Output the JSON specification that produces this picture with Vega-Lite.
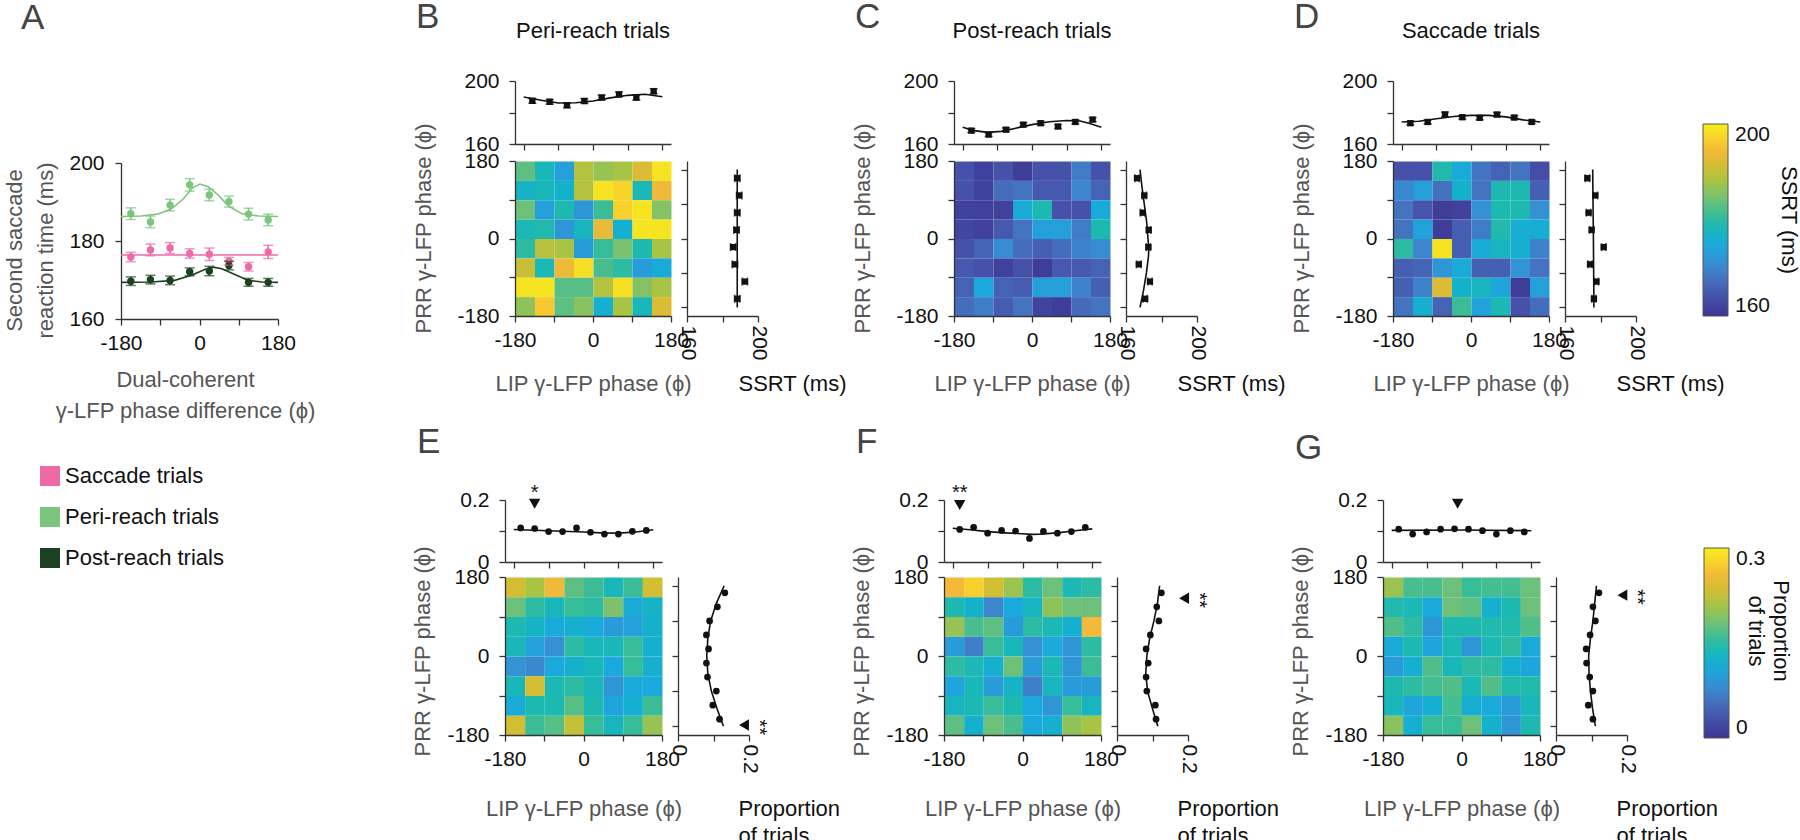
{
"$schema": "https://vega.github.io/schema/vega-lite/v6.json",
"padding": {"left": 2, "top": 0, "right": 0, "bottom": 0},
"bounds": "flush",
"spacing": 419,
"resolve": {"scale": {"color": "independent"}, "legend": {"color": "independent"}},
"config": {
 "font": "Liberation Sans",
 "view": {"stroke": null},
 "axis": {"grid": false, "domainColor": "#333", "domainWidth": 1.3, "tickColor": "#333", "tickWidth": 1.3, "tickSize": 6, "labelFontSize": 21, "labelColor": "#111", "labelPadding": 7, "labelFlush": false, "labelOverlap": false, "titleFontSize": 22, "titleFontWeight": "normal", "titleColor": "#555", "titlePadding": 16},
 "axisY": {"labelPadding": 10},
 "legend": {"labelFontSize": 21, "labelColor": "#111", "titleFontSize": 22, "titleFontWeight": "normal", "titleColor": "#111", "padding": 0},
 "title": {"fontSize": 22, "fontWeight": "normal", "color": "#111"}
},
"datasets": {
 "adata": [
  {"s":"Peri-reach trials","x":-157.5,"v":187.0,"e":1.5},{"s":"Peri-reach trials","x":-112.5,"v":184.9,"e":1.5},{"s":"Peri-reach trials","x":-67.5,"v":189.2,"e":1.5},{"s":"Peri-reach trials","x":-22.5,"v":194.4,"e":1.6},{"s":"Peri-reach trials","x":22.5,"v":191.8,"e":1.5},{"s":"Peri-reach trials","x":67.5,"v":190.1,"e":1.4},{"s":"Peri-reach trials","x":112.5,"v":186.9,"e":1.5},{"s":"Peri-reach trials","x":157.5,"v":185.4,"e":1.5},
  {"s":"Saccade trials","x":-157.5,"v":175.9,"e":1.2},{"s":"Saccade trials","x":-112.5,"v":177.7,"e":1.5},{"s":"Saccade trials","x":-67.5,"v":178.2,"e":1.4},{"s":"Saccade trials","x":-22.5,"v":176.8,"e":1.2},{"s":"Saccade trials","x":22.5,"v":176.6,"e":1.6},{"s":"Saccade trials","x":67.5,"v":174.8,"e":1.0},{"s":"Saccade trials","x":112.5,"v":173.4,"e":1.1},{"s":"Saccade trials","x":157.5,"v":177.2,"e":1.7},
  {"s":"Post-reach trials","x":-157.5,"v":169.7,"e":1.1},{"s":"Post-reach trials","x":-112.5,"v":170.1,"e":1.1},{"s":"Post-reach trials","x":-67.5,"v":169.9,"e":1.1},{"s":"Post-reach trials","x":-22.5,"v":172.1,"e":1.0},{"s":"Post-reach trials","x":22.5,"v":172.3,"e":1.2},{"s":"Post-reach trials","x":67.5,"v":173.7,"e":1.1},{"s":"Post-reach trials","x":112.5,"v":169.4,"e":1.0},{"s":"Post-reach trials","x":157.5,"v":169.4,"e":1.0}
 ],
 "afit": [
  {"s":"Peri-reach trials","x":-180,"v":186.3},{"s":"Peri-reach trials","x":-134,"v":186.4},{"s":"Peri-reach trials","x":-95,"v":186.9},{"s":"Peri-reach trials","x":-65,"v":188.2},{"s":"Peri-reach trials","x":-38,"v":190.7},{"s":"Peri-reach trials","x":-15,"v":193.7},{"s":"Peri-reach trials","x":1,"v":194.6},{"s":"Peri-reach trials","x":20,"v":193.9},{"s":"Peri-reach trials","x":43,"v":191.8},{"s":"Peri-reach trials","x":66,"v":189.0},{"s":"Peri-reach trials","x":97,"v":187.0},{"s":"Peri-reach trials","x":135,"v":186.4},{"s":"Peri-reach trials","x":180,"v":186.3},
  {"s":"Saccade trials","x":-180,"v":176.4},{"s":"Saccade trials","x":180,"v":176.4},
  {"s":"Post-reach trials","x":-180,"v":169.4},{"s":"Post-reach trials","x":-111,"v":169.5},{"s":"Post-reach trials","x":-57,"v":169.9},{"s":"Post-reach trials","x":-18,"v":171.2},{"s":"Post-reach trials","x":12,"v":172.7},{"s":"Post-reach trials","x":31,"v":173.3},{"s":"Post-reach trials","x":51,"v":172.9},{"s":"Post-reach trials","x":81,"v":171.4},{"s":"Post-reach trials","x":112,"v":169.9},{"s":"Post-reach trials","x":143,"v":169.5},{"s":"Post-reach trials","x":180,"v":169.4}
 ],
 "hm1": [
  {"p":"B","x":-180,"y":135,"v":183.2},{"p":"B","x":-135,"y":135,"v":178},{"p":"B","x":-90,"y":135,"v":173.2},{"p":"B","x":-45,"y":135,"v":188.8},{"p":"B","x":0,"y":135,"v":186.8},{"p":"B","x":45,"y":135,"v":188},{"p":"B","x":90,"y":135,"v":192},{"p":"B","x":135,"y":135,"v":198.8},
  {"p":"B","x":-180,"y":90,"v":177.2},{"p":"B","x":-135,"y":90,"v":178},{"p":"B","x":-90,"y":90,"v":176.8},{"p":"B","x":-45,"y":90,"v":188.8},{"p":"B","x":0,"y":90,"v":198.8},{"p":"B","x":45,"y":90,"v":197.2},{"p":"B","x":90,"y":90,"v":178.4},{"p":"B","x":135,"y":90,"v":194},
  {"p":"B","x":-180,"y":45,"v":184},{"p":"B","x":-135,"y":45,"v":173.2},{"p":"B","x":-90,"y":45,"v":178.8},{"p":"B","x":-45,"y":45,"v":172},{"p":"B","x":0,"y":45,"v":181.2},{"p":"B","x":45,"y":45,"v":196.8},{"p":"B","x":90,"y":45,"v":198.8},{"p":"B","x":135,"y":45,"v":185.6},
  {"p":"B","x":-180,"y":0,"v":178.4},{"p":"B","x":-135,"y":0,"v":179.2},{"p":"B","x":-90,"y":0,"v":172},{"p":"B","x":-45,"y":0,"v":177.6},{"p":"B","x":0,"y":0,"v":193.2},{"p":"B","x":45,"y":0,"v":176},{"p":"B","x":90,"y":0,"v":198.8},{"p":"B","x":135,"y":0,"v":198.8},
  {"p":"B","x":-180,"y":-45,"v":180},{"p":"B","x":-135,"y":-45,"v":189.2},{"p":"B","x":-90,"y":-45,"v":188},{"p":"B","x":-45,"y":-45,"v":172.8},{"p":"B","x":0,"y":-45,"v":180.8},{"p":"B","x":45,"y":-45,"v":184.8},{"p":"B","x":90,"y":-45,"v":178.8},{"p":"B","x":135,"y":-45,"v":188},
  {"p":"B","x":-180,"y":-90,"v":190.4},{"p":"B","x":-135,"y":-90,"v":178.4},{"p":"B","x":-90,"y":-90,"v":193.6},{"p":"B","x":-45,"y":-90,"v":198.4},{"p":"B","x":0,"y":-90,"v":182},{"p":"B","x":45,"y":-90,"v":180},{"p":"B","x":90,"y":-90,"v":172.8},{"p":"B","x":135,"y":-90,"v":175.2},
  {"p":"B","x":-180,"y":-135,"v":198.8},{"p":"B","x":-135,"y":-135,"v":198.8},{"p":"B","x":-90,"y":-135,"v":182.8},{"p":"B","x":-45,"y":-135,"v":182.8},{"p":"B","x":0,"y":-135,"v":188.8},{"p":"B","x":45,"y":-135,"v":198.4},{"p":"B","x":90,"y":-135,"v":185.6},{"p":"B","x":135,"y":-135,"v":188},
  {"p":"B","x":-180,"y":-180,"v":186.4},{"p":"B","x":-135,"y":-180,"v":196},{"p":"B","x":-90,"y":-180,"v":183.2},{"p":"B","x":-45,"y":-180,"v":186},{"p":"B","x":0,"y":-180,"v":176},{"p":"B","x":45,"y":-180,"v":188},{"p":"B","x":90,"y":-180,"v":178},{"p":"B","x":135,"y":-180,"v":192},
  {"p":"C","x":-180,"y":135,"v":164},{"p":"C","x":-135,"y":135,"v":161.6},{"p":"C","x":-90,"y":135,"v":164},{"p":"C","x":-45,"y":135,"v":161.2},{"p":"C","x":0,"y":135,"v":164},{"p":"C","x":45,"y":135,"v":164},{"p":"C","x":90,"y":135,"v":168.8},{"p":"C","x":135,"y":135,"v":164},
  {"p":"C","x":-180,"y":90,"v":164},{"p":"C","x":-135,"y":90,"v":161.6},{"p":"C","x":-90,"y":90,"v":167.2},{"p":"C","x":-45,"y":90,"v":168},{"p":"C","x":0,"y":90,"v":164.8},{"p":"C","x":45,"y":90,"v":164.8},{"p":"C","x":90,"y":90,"v":170},{"p":"C","x":135,"y":90,"v":166},
  {"p":"C","x":-180,"y":45,"v":161.6},{"p":"C","x":-135,"y":45,"v":161.6},{"p":"C","x":-90,"y":45,"v":161.6},{"p":"C","x":-45,"y":45,"v":175.2},{"p":"C","x":0,"y":45,"v":178.8},{"p":"C","x":45,"y":45,"v":164},{"p":"C","x":90,"y":45,"v":164},{"p":"C","x":135,"y":45,"v":174.8},
  {"p":"C","x":-180,"y":0,"v":162.4},{"p":"C","x":-135,"y":0,"v":161.6},{"p":"C","x":-90,"y":0,"v":164.8},{"p":"C","x":-45,"y":0,"v":168},{"p":"C","x":0,"y":0,"v":173.2},{"p":"C","x":45,"y":0,"v":173.2},{"p":"C","x":90,"y":0,"v":168.8},{"p":"C","x":135,"y":0,"v":178.8},
  {"p":"C","x":-180,"y":-45,"v":164},{"p":"C","x":-135,"y":-45,"v":166},{"p":"C","x":-90,"y":-45,"v":170.8},{"p":"C","x":-45,"y":-45,"v":167.2},{"p":"C","x":0,"y":-45,"v":165.6},{"p":"C","x":45,"y":-45,"v":167.2},{"p":"C","x":90,"y":-45,"v":169.6},{"p":"C","x":135,"y":-45,"v":170.8},
  {"p":"C","x":-180,"y":-90,"v":164.8},{"p":"C","x":-135,"y":-90,"v":164},{"p":"C","x":-90,"y":-90,"v":161.6},{"p":"C","x":-45,"y":-90,"v":164},{"p":"C","x":0,"y":-90,"v":161.2},{"p":"C","x":45,"y":-90,"v":164.8},{"p":"C","x":90,"y":-90,"v":164.8},{"p":"C","x":135,"y":-90,"v":166},
  {"p":"C","x":-180,"y":-135,"v":166},{"p":"C","x":-135,"y":-135,"v":174.4},{"p":"C","x":-90,"y":-135,"v":166},{"p":"C","x":-45,"y":-135,"v":165.2},{"p":"C","x":0,"y":-135,"v":173.2},{"p":"C","x":45,"y":-135,"v":173.2},{"p":"C","x":90,"y":-135,"v":169.6},{"p":"C","x":135,"y":-135,"v":165.6},
  {"p":"C","x":-180,"y":-180,"v":167.2},{"p":"C","x":-135,"y":-180,"v":169.2},{"p":"C","x":-90,"y":-180,"v":165.2},{"p":"C","x":-45,"y":-180,"v":168},{"p":"C","x":0,"y":-180,"v":162},{"p":"C","x":45,"y":-180,"v":161.2},{"p":"C","x":90,"y":-180,"v":166.8},{"p":"C","x":135,"y":-180,"v":168},
  {"p":"D","x":-180,"y":135,"v":164},{"p":"D","x":-135,"y":135,"v":164},{"p":"D","x":-90,"y":135,"v":179.2},{"p":"D","x":-45,"y":135,"v":174.8},{"p":"D","x":0,"y":135,"v":168},{"p":"D","x":45,"y":135,"v":166},{"p":"D","x":90,"y":135,"v":168},{"p":"D","x":135,"y":135,"v":163.2},
  {"p":"D","x":-180,"y":90,"v":170.4},{"p":"D","x":-135,"y":90,"v":173.2},{"p":"D","x":-90,"y":90,"v":167.6},{"p":"D","x":-45,"y":90,"v":176.8},{"p":"D","x":0,"y":90,"v":168},{"p":"D","x":45,"y":90,"v":178.8},{"p":"D","x":90,"y":90,"v":178.8},{"p":"D","x":135,"y":90,"v":165.6},
  {"p":"D","x":-180,"y":45,"v":168},{"p":"D","x":-135,"y":45,"v":164.4},{"p":"D","x":-90,"y":45,"v":161.2},{"p":"D","x":-45,"y":45,"v":161.6},{"p":"D","x":0,"y":45,"v":171.2},{"p":"D","x":45,"y":45,"v":178.8},{"p":"D","x":90,"y":45,"v":178.8},{"p":"D","x":135,"y":45,"v":171.2},
  {"p":"D","x":-180,"y":0,"v":168},{"p":"D","x":-135,"y":0,"v":173.6},{"p":"D","x":-90,"y":0,"v":161.2},{"p":"D","x":-45,"y":0,"v":165.6},{"p":"D","x":0,"y":0,"v":168.8},{"p":"D","x":45,"y":0,"v":179.2},{"p":"D","x":90,"y":0,"v":175.6},{"p":"D","x":135,"y":0,"v":175.6},
  {"p":"D","x":-180,"y":-45,"v":180},{"p":"D","x":-135,"y":-45,"v":170},{"p":"D","x":-90,"y":-45,"v":198.8},{"p":"D","x":-45,"y":-45,"v":165.6},{"p":"D","x":0,"y":-45,"v":175.2},{"p":"D","x":45,"y":-45,"v":177.6},{"p":"D","x":90,"y":-45,"v":176},{"p":"D","x":135,"y":-45,"v":169.6},
  {"p":"D","x":-180,"y":-90,"v":165.6},{"p":"D","x":-135,"y":-90,"v":166.4},{"p":"D","x":-90,"y":-90,"v":172},{"p":"D","x":-45,"y":-90,"v":175.2},{"p":"D","x":0,"y":-90,"v":165.6},{"p":"D","x":45,"y":-90,"v":165.6},{"p":"D","x":90,"y":-90,"v":171.6},{"p":"D","x":135,"y":-90,"v":168},
  {"p":"D","x":-180,"y":-135,"v":165.6},{"p":"D","x":-135,"y":-135,"v":169.6},{"p":"D","x":-90,"y":-135,"v":192},{"p":"D","x":-45,"y":-135,"v":176.8},{"p":"D","x":0,"y":-135,"v":177.6},{"p":"D","x":45,"y":-135,"v":174},{"p":"D","x":90,"y":-135,"v":161.2},{"p":"D","x":135,"y":-135,"v":173.2},
  {"p":"D","x":-180,"y":-180,"v":168},{"p":"D","x":-135,"y":-180,"v":176},{"p":"D","x":-90,"y":-180,"v":166},{"p":"D","x":-45,"y":-180,"v":181.2},{"p":"D","x":0,"y":-180,"v":173.6},{"p":"D","x":45,"y":-180,"v":178.4},{"p":"D","x":90,"y":-180,"v":164},{"p":"D","x":135,"y":-180,"v":167.2}
 ],
 "hm2": [
  {"p":"E","x":-180,"y":135,"v":0.234},{"p":"E","x":-135,"y":135,"v":0.21},{"p":"E","x":-90,"y":135,"v":0.255},{"p":"E","x":-45,"y":135,"v":0.174},{"p":"E","x":0,"y":135,"v":0.159},{"p":"E","x":45,"y":135,"v":0.135},{"p":"E","x":90,"y":135,"v":0.159},{"p":"E","x":135,"y":135,"v":0.234},
  {"p":"E","x":-180,"y":90,"v":0.18},{"p":"E","x":-135,"y":90,"v":0.15},{"p":"E","x":-90,"y":90,"v":0.135},{"p":"E","x":-45,"y":90,"v":0.156},{"p":"E","x":0,"y":90,"v":0.15},{"p":"E","x":45,"y":90,"v":0.189},{"p":"E","x":90,"y":90,"v":0.114},{"p":"E","x":135,"y":90,"v":0.129},
  {"p":"E","x":-180,"y":45,"v":0.141},{"p":"E","x":-135,"y":45,"v":0.129},{"p":"E","x":-90,"y":45,"v":0.111},{"p":"E","x":-45,"y":45,"v":0.12},{"p":"E","x":0,"y":45,"v":0.111},{"p":"E","x":45,"y":45,"v":0.096},{"p":"E","x":90,"y":45,"v":0.099},{"p":"E","x":135,"y":45,"v":0.126},
  {"p":"E","x":-180,"y":0,"v":0.135},{"p":"E","x":-135,"y":0,"v":0.099},{"p":"E","x":-90,"y":0,"v":0.084},{"p":"E","x":-45,"y":0,"v":0.15},{"p":"E","x":0,"y":0,"v":0.135},{"p":"E","x":45,"y":0,"v":0.135},{"p":"E","x":90,"y":0,"v":0.156},{"p":"E","x":135,"y":0,"v":0.12},
  {"p":"E","x":-180,"y":-45,"v":0.087},{"p":"E","x":-135,"y":-45,"v":0.078},{"p":"E","x":-90,"y":-45,"v":0.108},{"p":"E","x":-45,"y":-45,"v":0.126},{"p":"E","x":0,"y":-45,"v":0.135},{"p":"E","x":45,"y":-45,"v":0.108},{"p":"E","x":90,"y":-45,"v":0.156},{"p":"E","x":135,"y":-45,"v":0.12},
  {"p":"E","x":-180,"y":-90,"v":0.135},{"p":"E","x":-135,"y":-90,"v":0.234},{"p":"E","x":-90,"y":-90,"v":0.138},{"p":"E","x":-45,"y":-90,"v":0.15},{"p":"E","x":0,"y":-90,"v":0.135},{"p":"E","x":45,"y":-90,"v":0.09},{"p":"E","x":90,"y":-90,"v":0.111},{"p":"E","x":135,"y":-90,"v":0.108},
  {"p":"E","x":-180,"y":-135,"v":0.114},{"p":"E","x":-135,"y":-135,"v":0.141},{"p":"E","x":-90,"y":-135,"v":0.141},{"p":"E","x":-45,"y":-135,"v":0.171},{"p":"E","x":0,"y":-135,"v":0.141},{"p":"E","x":45,"y":-135,"v":0.105},{"p":"E","x":90,"y":-135,"v":0.12},{"p":"E","x":135,"y":-135,"v":0.159},
  {"p":"E","x":-180,"y":-180,"v":0.234},{"p":"E","x":-135,"y":-180,"v":0.159},{"p":"E","x":-90,"y":-180,"v":0.171},{"p":"E","x":-45,"y":-180,"v":0.225},{"p":"E","x":0,"y":-180,"v":0.156},{"p":"E","x":45,"y":-180,"v":0.132},{"p":"E","x":90,"y":-180,"v":0.156},{"p":"E","x":135,"y":-180,"v":0.201},
  {"p":"F","x":-180,"y":135,"v":0.258},{"p":"F","x":-135,"y":135,"v":0.276},{"p":"F","x":-90,"y":135,"v":0.234},{"p":"F","x":-45,"y":135,"v":0.204},{"p":"F","x":0,"y":135,"v":0.15},{"p":"F","x":45,"y":135,"v":0.18},{"p":"F","x":90,"y":135,"v":0.138},{"p":"F","x":135,"y":135,"v":0.15},
  {"p":"F","x":-180,"y":90,"v":0.141},{"p":"F","x":-135,"y":90,"v":0.126},{"p":"F","x":-90,"y":90,"v":0.075},{"p":"F","x":-45,"y":90,"v":0.108},{"p":"F","x":0,"y":90,"v":0.132},{"p":"F","x":45,"y":90,"v":0.198},{"p":"F","x":90,"y":90,"v":0.18},{"p":"F","x":135,"y":90,"v":0.18},
  {"p":"F","x":-180,"y":45,"v":0.201},{"p":"F","x":-135,"y":45,"v":0.165},{"p":"F","x":-90,"y":45,"v":0.174},{"p":"F","x":-45,"y":45,"v":0.096},{"p":"F","x":0,"y":45,"v":0.15},{"p":"F","x":45,"y":45,"v":0.138},{"p":"F","x":90,"y":45,"v":0.12},{"p":"F","x":135,"y":45,"v":0.258},
  {"p":"F","x":-180,"y":0,"v":0.096},{"p":"F","x":-135,"y":0,"v":0.069},{"p":"F","x":-90,"y":0,"v":0.156},{"p":"F","x":-45,"y":0,"v":0.135},{"p":"F","x":0,"y":0,"v":0.084},{"p":"F","x":45,"y":0,"v":0.111},{"p":"F","x":90,"y":0,"v":0.09},{"p":"F","x":135,"y":0,"v":0.15},
  {"p":"F","x":-180,"y":-45,"v":0.15},{"p":"F","x":-135,"y":-45,"v":0.138},{"p":"F","x":-90,"y":-45,"v":0.12},{"p":"F","x":-45,"y":-45,"v":0.18},{"p":"F","x":0,"y":-45,"v":0.096},{"p":"F","x":45,"y":-45,"v":0.138},{"p":"F","x":90,"y":-45,"v":0.09},{"p":"F","x":135,"y":-45,"v":0.159},
  {"p":"F","x":-180,"y":-90,"v":0.105},{"p":"F","x":-135,"y":-90,"v":0.135},{"p":"F","x":-90,"y":-90,"v":0.096},{"p":"F","x":-45,"y":-90,"v":0.129},{"p":"F","x":0,"y":-90,"v":0.069},{"p":"F","x":45,"y":-90,"v":0.132},{"p":"F","x":90,"y":-90,"v":0.096},{"p":"F","x":135,"y":-90,"v":0.096},
  {"p":"F","x":-180,"y":-135,"v":0.132},{"p":"F","x":-135,"y":-135,"v":0.138},{"p":"F","x":-90,"y":-135,"v":0.156},{"p":"F","x":-45,"y":-135,"v":0.141},{"p":"F","x":0,"y":-135,"v":0.108},{"p":"F","x":45,"y":-135,"v":0.09},{"p":"F","x":90,"y":-135,"v":0.156},{"p":"F","x":135,"y":-135,"v":0.132},
  {"p":"F","x":-180,"y":-180,"v":0.174},{"p":"F","x":-135,"y":-180,"v":0.123},{"p":"F","x":-90,"y":-180,"v":0.18},{"p":"F","x":-45,"y":-180,"v":0.165},{"p":"F","x":0,"y":-180,"v":0.108},{"p":"F","x":45,"y":-180,"v":0.12},{"p":"F","x":90,"y":-180,"v":0.198},{"p":"F","x":135,"y":-180,"v":0.21},
  {"p":"G","x":-180,"y":135,"v":0.204},{"p":"G","x":-135,"y":135,"v":0.165},{"p":"G","x":-90,"y":135,"v":0.165},{"p":"G","x":-45,"y":135,"v":0.18},{"p":"G","x":0,"y":135,"v":0.156},{"p":"G","x":45,"y":135,"v":0.162},{"p":"G","x":90,"y":135,"v":0.162},{"p":"G","x":135,"y":135,"v":0.18},
  {"p":"G","x":-180,"y":90,"v":0.144},{"p":"G","x":-135,"y":90,"v":0.138},{"p":"G","x":-90,"y":90,"v":0.111},{"p":"G","x":-45,"y":90,"v":0.18},{"p":"G","x":0,"y":90,"v":0.174},{"p":"G","x":45,"y":90,"v":0.12},{"p":"G","x":90,"y":90,"v":0.141},{"p":"G","x":135,"y":90,"v":0.18},
  {"p":"G","x":-180,"y":45,"v":0.168},{"p":"G","x":-135,"y":45,"v":0.15},{"p":"G","x":-90,"y":45,"v":0.09},{"p":"G","x":-45,"y":45,"v":0.141},{"p":"G","x":0,"y":45,"v":0.141},{"p":"G","x":45,"y":45,"v":0.144},{"p":"G","x":90,"y":45,"v":0.144},{"p":"G","x":135,"y":45,"v":0.168},
  {"p":"G","x":-180,"y":0,"v":0.111},{"p":"G","x":-135,"y":0,"v":0.141},{"p":"G","x":-90,"y":0,"v":0.105},{"p":"G","x":-45,"y":0,"v":0.138},{"p":"G","x":0,"y":0,"v":0.09},{"p":"G","x":45,"y":0,"v":0.138},{"p":"G","x":90,"y":0,"v":0.15},{"p":"G","x":135,"y":0,"v":0.111},
  {"p":"G","x":-180,"y":-45,"v":0.096},{"p":"G","x":-135,"y":-45,"v":0.12},{"p":"G","x":-90,"y":-45,"v":0.168},{"p":"G","x":-45,"y":-45,"v":0.135},{"p":"G","x":0,"y":-45,"v":0.15},{"p":"G","x":45,"y":-45,"v":0.15},{"p":"G","x":90,"y":-45,"v":0.12},{"p":"G","x":135,"y":-45,"v":0.105},
  {"p":"G","x":-180,"y":-90,"v":0.141},{"p":"G","x":-135,"y":-90,"v":0.15},{"p":"G","x":-90,"y":-90,"v":0.162},{"p":"G","x":-45,"y":-90,"v":0.168},{"p":"G","x":0,"y":-90,"v":0.138},{"p":"G","x":45,"y":-90,"v":0.168},{"p":"G","x":90,"y":-90,"v":0.144},{"p":"G","x":135,"y":-90,"v":0.144},
  {"p":"G","x":-180,"y":-135,"v":0.135},{"p":"G","x":-135,"y":-135,"v":0.105},{"p":"G","x":-90,"y":-135,"v":0.12},{"p":"G","x":-45,"y":-135,"v":0.162},{"p":"G","x":0,"y":-135,"v":0.12},{"p":"G","x":45,"y":-135,"v":0.111},{"p":"G","x":90,"y":-135,"v":0.096},{"p":"G","x":135,"y":-135,"v":0.135},
  {"p":"G","x":-180,"y":-180,"v":0.195},{"p":"G","x":-135,"y":-180,"v":0.12},{"p":"G","x":-90,"y":-180,"v":0.156},{"p":"G","x":-45,"y":-180,"v":0.156},{"p":"G","x":0,"y":-180,"v":0.18},{"p":"G","x":45,"y":-180,"v":0.126},{"p":"G","x":90,"y":-180,"v":0.09},{"p":"G","x":135,"y":-180,"v":0.141}
 ],
 "t1": [
  {"p":"B","x":-157.5,"v":187.4,"e":1.5},{"p":"B","x":-112.5,"v":186.8,"e":1.5},{"p":"B","x":-67.5,"v":184.6,"e":1.5},{"p":"B","x":-22.5,"v":187.3,"e":1.5},{"p":"B","x":22.5,"v":189.5,"e":1.5},{"p":"B","x":67.5,"v":191.5,"e":1.5},{"p":"B","x":112.5,"v":189.5,"e":1.6},{"p":"B","x":157.5,"v":193.5,"e":1.6},
  {"p":"C","x":-157.5,"v":168.5,"e":1.2},{"p":"C","x":-112.5,"v":166.0,"e":1.2},{"p":"C","x":-67.5,"v":169.1,"e":1.2},{"p":"C","x":-22.5,"v":172.3,"e":1.2},{"p":"C","x":22.5,"v":173.2,"e":1.2},{"p":"C","x":67.5,"v":171.1,"e":1.2},{"p":"C","x":112.5,"v":174.0,"e":1.2},{"p":"C","x":157.5,"v":175.5,"e":1.3},
  {"p":"D","x":-157.5,"v":173.2,"e":1.1},{"p":"D","x":-112.5,"v":174.0,"e":1.2},{"p":"D","x":-67.5,"v":178.7,"e":1.6},{"p":"D","x":-22.5,"v":177.0,"e":1.2},{"p":"D","x":22.5,"v":176.6,"e":1.2},{"p":"D","x":67.5,"v":178.7,"e":1.3},{"p":"D","x":112.5,"v":176.8,"e":1.2},{"p":"D","x":157.5,"v":174.0,"e":1.0}
 ],
 "tf1": [
  {"p":"B","x":-180,"v":189.8},{"p":"B","x":-135,"v":187.8},{"p":"B","x":-90,"v":186.0},{"p":"B","x":-45,"v":186.2},{"p":"B","x":0,"v":187.3},{"p":"B","x":45,"v":189.3},{"p":"B","x":90,"v":190.9},{"p":"B","x":135,"v":191.6},{"p":"B","x":180,"v":190.0},
  {"p":"C","x":-180,"v":170.6},{"p":"C","x":-150,"v":168.5},{"p":"C","x":-115,"v":167.4},{"p":"C","x":-80,"v":168.0},{"p":"C","x":-45,"v":169.9},{"p":"C","x":0,"v":172.3},{"p":"C","x":45,"v":174.1},{"p":"C","x":90,"v":174.9},{"p":"C","x":125,"v":174.6},{"p":"C","x":150,"v":173.0},{"p":"C","x":180,"v":170.6},
  {"p":"D","x":-180,"v":174.0},{"p":"D","x":-135,"v":174.4},{"p":"D","x":-90,"v":176.0},{"p":"D","x":-45,"v":177.5},{"p":"D","x":0,"v":178.2},{"p":"D","x":45,"v":178.2},{"p":"D","x":90,"v":177.2},{"p":"D","x":135,"v":175.3},{"p":"D","x":180,"v":174.0}
 ],
 "r1": [
  {"p":"B","y":157.5,"v":188.3,"e":1.5},{"p":"B","y":112.5,"v":189.4,"e":1.5},{"p":"B","y":67.5,"v":188.3,"e":1.5},{"p":"B","y":22.5,"v":187.9,"e":1.5},{"p":"B","y":-22.5,"v":186.0,"e":1.5},{"p":"B","y":-67.5,"v":187.0,"e":1.5},{"p":"B","y":-112.5,"v":192.6,"e":1.5},{"p":"B","y":-157.5,"v":188.3,"e":1.5},
  {"p":"C","y":157.5,"v":166.2,"e":1.2},{"p":"C","y":112.5,"v":170.3,"e":1.2},{"p":"C","y":67.5,"v":169.4,"e":1.2},{"p":"C","y":22.5,"v":172.8,"e":1.2},{"p":"C","y":-22.5,"v":172.6,"e":1.2},{"p":"C","y":-67.5,"v":167.2,"e":1.2},{"p":"C","y":-112.5,"v":173.5,"e":1.2},{"p":"C","y":-157.5,"v":170.8,"e":1.2},
  {"p":"D","y":157.5,"v":172.6,"e":1.2},{"p":"D","y":112.5,"v":177.1,"e":1.2},{"p":"D","y":67.5,"v":173.3,"e":1.2},{"p":"D","y":22.5,"v":175.0,"e":1.2},{"p":"D","y":-22.5,"v":181.8,"e":1.2},{"p":"D","y":-67.5,"v":174.1,"e":1.2},{"p":"D","y":-112.5,"v":177.7,"e":1.2},{"p":"D","y":-157.5,"v":176.3,"e":1.2}
 ],
 "rf1": [
  {"p":"B","y":180,"v":188.3},{"p":"B","y":-180,"v":188.3},
  {"p":"C","y":180,"v":167.9},{"p":"C","y":135,"v":169.0},{"p":"C","y":90,"v":170.3},{"p":"C","y":45,"v":171.6},{"p":"C","y":0,"v":172.4},{"p":"C","y":-25,"v":172.8},{"p":"C","y":-45,"v":172.7},{"p":"C","y":-90,"v":171.5},{"p":"C","y":-135,"v":169.9},{"p":"C","y":-180,"v":167.9},
  {"p":"D","y":180,"v":175.6},{"p":"D","y":0,"v":176.0},{"p":"D","y":-180,"v":176.3}
 ],
 "t2": [
  {"p":"E","x":-162,"v":0.110},{"p":"E","x":-126,"v":0.108},{"p":"E","x":-90,"v":0.098},{"p":"E","x":-54,"v":0.098},{"p":"E","x":-18,"v":0.110},{"p":"E","x":18,"v":0.096},{"p":"E","x":54,"v":0.090},{"p":"E","x":90,"v":0.090},{"p":"E","x":126,"v":0.099},{"p":"E","x":162,"v":0.102},
  {"p":"F","x":-162,"v":0.105},{"p":"F","x":-126,"v":0.112},{"p":"F","x":-90,"v":0.093},{"p":"F","x":-54,"v":0.102},{"p":"F","x":-18,"v":0.100},{"p":"F","x":18,"v":0.076},{"p":"F","x":54,"v":0.099},{"p":"F","x":90,"v":0.093},{"p":"F","x":126,"v":0.098},{"p":"F","x":162,"v":0.112},
  {"p":"G","x":-162,"v":0.106},{"p":"G","x":-126,"v":0.090},{"p":"G","x":-90,"v":0.097},{"p":"G","x":-54,"v":0.106},{"p":"G","x":-18,"v":0.107},{"p":"G","x":18,"v":0.106},{"p":"G","x":54,"v":0.101},{"p":"G","x":90,"v":0.090},{"p":"G","x":126,"v":0.101},{"p":"G","x":162,"v":0.097}
 ],
 "tf2": [
  {"p":"E","x":-180,"v":0.105},{"p":"E","x":-90,"v":0.101},{"p":"E","x":0,"v":0.097},{"p":"E","x":45,"v":0.094},{"p":"E","x":90,"v":0.093},{"p":"E","x":135,"v":0.097},{"p":"E","x":180,"v":0.104},
  {"p":"F","x":-180,"v":0.109},{"p":"F","x":-135,"v":0.104},{"p":"F","x":-90,"v":0.098},{"p":"F","x":-45,"v":0.094},{"p":"F","x":0,"v":0.091},{"p":"F","x":25,"v":0.089},{"p":"F","x":45,"v":0.090},{"p":"F","x":90,"v":0.094},{"p":"F","x":135,"v":0.101},{"p":"F","x":180,"v":0.107},
  {"p":"G","x":-180,"v":0.102},{"p":"G","x":0,"v":0.103},{"p":"G","x":180,"v":0.101}
 ],
 "r2": [
  {"p":"E","y":162,"v":0.132},{"p":"E","y":126,"v":0.111},{"p":"E","y":90,"v":0.089},{"p":"E","y":54,"v":0.080},{"p":"E","y":18,"v":0.086},{"p":"E","y":-18,"v":0.080},{"p":"E","y":-54,"v":0.083},{"p":"E","y":-90,"v":0.108},{"p":"E","y":-126,"v":0.098},{"p":"E","y":-162,"v":0.117},
  {"p":"F","y":162,"v":0.125},{"p":"F","y":126,"v":0.112},{"p":"F","y":90,"v":0.118},{"p":"F","y":54,"v":0.094},{"p":"F","y":18,"v":0.082},{"p":"F","y":-18,"v":0.088},{"p":"F","y":-54,"v":0.082},{"p":"F","y":-90,"v":0.084},{"p":"F","y":-126,"v":0.108},{"p":"F","y":-162,"v":0.110},
  {"p":"G","y":162,"v":0.121},{"p":"G","y":126,"v":0.104},{"p":"G","y":90,"v":0.111},{"p":"G","y":54,"v":0.096},{"p":"G","y":18,"v":0.085},{"p":"G","y":-18,"v":0.086},{"p":"G","y":-54,"v":0.095},{"p":"G","y":-90,"v":0.104},{"p":"G","y":-126,"v":0.091},{"p":"G","y":-162,"v":0.104}
 ],
 "rf2": [
  {"p":"E","y":180,"v":0.130},{"p":"E","y":135,"v":0.108},{"p":"E","y":90,"v":0.092},{"p":"E","y":45,"v":0.084},{"p":"E","y":0,"v":0.081},{"p":"E","y":-45,"v":0.084},{"p":"E","y":-90,"v":0.094},{"p":"E","y":-135,"v":0.110},{"p":"E","y":-180,"v":0.128},
  {"p":"F","y":180,"v":0.120},{"p":"F","y":135,"v":0.114},{"p":"F","y":90,"v":0.104},{"p":"F","y":45,"v":0.092},{"p":"F","y":0,"v":0.084},{"p":"F","y":-45,"v":0.081},{"p":"F","y":-90,"v":0.086},{"p":"F","y":-135,"v":0.100},{"p":"F","y":-180,"v":0.115},
  {"p":"G","y":180,"v":0.114},{"p":"G","y":90,"v":0.104},{"p":"G","y":45,"v":0.097},{"p":"G","y":0,"v":0.092},{"p":"G","y":-45,"v":0.093},{"p":"G","y":-90,"v":0.097},{"p":"G","y":-135,"v":0.103},{"p":"G","y":-180,"v":0.111}
 ],
 "mt2": [
  {"p":"E","k":"tri","x":-126,"v":0.188,"label":""},{"p":"E","k":"star","x":-126,"v":0.222,"label":"*"},
  {"p":"F","k":"tri","x":-162,"v":0.184,"label":""},{"p":"F","k":"star","x":-162,"v":0.222,"label":"**"},
  {"p":"G","k":"tri","x":-10,"v":0.188,"label":""}
 ],
 "mr2": [
  {"p":"E","k":"tri","y":-177,"v":0.186,"label":""},{"p":"E","k":"star","y":-183,"v":0.228,"label":"**"},
  {"p":"F","k":"tri","y":148,"v":0.189,"label":""},{"p":"F","k":"star","y":143,"v":0.232,"label":"**"},
  {"p":"G","k":"tri","y":156,"v":0.187,"label":""},{"p":"G","k":"star","y":151,"v":0.228,"label":"**"}
 ]
},
"vconcat": [
 {
  "bounds": "flush",
  "spacing": 394,
  "resolve": {"scale": {"color": "independent"}, "legend": {"color": "independent"}},
  "hconcat": [
   {
    "bounds": "flush",
    "spacing": 81,
    "title": {"text": "A", "anchor": "start", "frame": "group", "fontSize": 35, "color": "#444", "baseline": "alphabetic", "dx": -100, "offset": 17},
    "vconcat": [
     {"width": 157, "height": 1, "data": {"values": [{"k": 0}]}, "mark": {"type": "point", "opacity": 0, "size": 1}, "encoding": {}},
     {
      "width": 157, "height": 156,
      "encoding": {
       "x": {"field": "x", "type": "quantitative", "scale": {"domain": [-180, 180], "nice": false}, "axis": {"values": [-180, -90, 0, 90, 180], "labelExpr": "datum.value==-180?'-180':datum.value==0?'0':datum.value==180?'180':''", "title": ["Dual-coherent", "γ-LFP phase difference (ϕ)"], "titleLineHeight": 31, "titleBaseline": "alphabetic", "titleY": 67, "titleX": 64}},
       "y": {"field": "v", "type": "quantitative", "scale": {"domain": [160, 200], "nice": false, "zero": false}, "axis": {"values": [160, 180, 200], "title": ["Second saccade", "reaction time (ms)"], "titleLineHeight": 31, "titleBaseline": "alphabetic", "titleX": -100, "titleY": 87, "labelPadding": 11}}
      },
      "layer": [
       {"data": {"name": "adata"}, "mark": {"type": "point", "filled": true, "size": 55, "opacity": 1},
        "encoding": {"color": {"field": "s", "type": "nominal", "scale": {"domain": ["Saccade trials", "Peri-reach trials", "Post-reach trials"], "range": ["#ee6aa7", "#7cc57d", "#1b4121"]},
         "legend": {"title": null, "orient": "none", "legendX": -82, "legendY": 384, "symbolType": "square", "symbolSize": 400, "symbolStrokeWidth": 0, "symbolOpacity": 1, "labelFontSize": 22, "rowPadding": 19, "labelOffset": 4, "padding": 0}}}},
       {"data": {"name": "afit"}, "mark": {"type": "line", "strokeWidth": 1.6},
        "encoding": {"color": {"field": "s", "type": "nominal", "scale": {"domain": ["Saccade trials", "Peri-reach trials", "Post-reach trials"], "range": ["#ee6aa7", "#7cc57d", "#1b4121"]},
         "legend": {"title": null, "orient": "none", "legendX": -82, "legendY": 384, "symbolType": "square", "symbolSize": 400, "symbolStrokeWidth": 0, "symbolOpacity": 1, "labelFontSize": 22, "rowPadding": 19, "labelOffset": 4, "padding": 0}}}},
       {"data": {"name": "adata"}, "mark": {"type": "errorbar", "ticks": {"size": 10, "thickness": 1.5}, "thickness": 1.5},
        "encoding": {"yError": {"field": "e"}, "color": {"field": "s", "type": "nominal", "scale": {"domain": ["Saccade trials", "Peri-reach trials", "Post-reach trials"], "range": ["#ee6aa7", "#7cc57d", "#1b4121"]},
         "legend": {"title": null, "orient": "none", "legendX": -82, "legendY": 384, "symbolType": "square", "symbolSize": 400, "symbolStrokeWidth": 0, "symbolOpacity": 1, "labelFontSize": 22, "rowPadding": 19, "labelOffset": 4, "padding": 0}}}}
      ]
     }
    ]
   },
   {
    "bounds": "flush",
    "spacing": 439,
    "resolve": {"scale": {"color": "independent"}, "legend": {"color": "independent"}},
    "hconcat": [
     {
      "bounds": "flush", "spacing": 17,
      "title": {"text": "B", "anchor": "start", "frame": "group", "fontSize": 35, "color": "#444", "baseline": "alphabetic", "dx": -99, "offset": 0, "dy": 43},
      "vconcat": [
       {"width": 156, "height": 63,
        "title": {"text": "Peri-reach trials", "baseline": "alphabetic", "offset": 10, "frame": "group"},
        "encoding": {
         "x": {"field": "x", "type": "quantitative", "scale": {"domain": [-202.5, 202.5], "nice": false}, "axis": {"values": [-180, -90, 0, 90, 180], "labels": false, "title": null}},
         "y": {"field": "v", "type": "quantitative", "scale": {"domain": [160, 200], "nice": false, "zero": false}, "axis": {"values": [160, 180, 200], "labelExpr": "datum.value==180?'':datum.label", "title": null}}
        },
        "layer": [
         {"data": {"name": "tf1"}, "transform": [{"filter": "datum.p == 'B'"}], "mark": {"type": "line", "color": "#111", "strokeWidth": 1.6}},
         {"data": {"name": "t1"}, "transform": [{"filter": "datum.p == 'B'"}], "mark": {"type": "errorbar", "color": "#111", "ticks": {"size": 8, "thickness": 1.6}, "thickness": 1.6}, "encoding": {"yError": {"field": "e"}}},
         {"data": {"name": "t1"}, "transform": [{"filter": "datum.p == 'B'"}], "mark": {"type": "point", "shape": "square", "filled": true, "size": 40, "color": "#111", "opacity": 1}}
        ]
       },
       {
        "bounds": "flush", "spacing": 16,
        "hconcat": [
         {"width": 156, "height": 155, "data": {"name": "hm1"}, "transform": [{"filter": "datum.p == 'B'"}], "mark": {"type": "rect"},
          "encoding": {
           "x": {"field": "x", "type": "quantitative", "bin": {"binned": true, "step": 45}, "scale": {"domain": [-180, 180], "nice": false}, "axis": {"values": [-180, -90, 0, 90, 180], "labelExpr": "datum.value==-180?'-180':datum.value==0?'0':datum.value==180?'180':''", "title": "LIP γ-LFP phase (ϕ)", "titleBaseline": "alphabetic", "titleY": 74}},
           "y": {"field": "y", "type": "quantitative", "bin": {"binned": true, "step": 45}, "scale": {"domain": [-180, 180], "nice": false}, "axis": {"values": [-180, -90, 0, 90, 180], "labelExpr": "datum.value==-180?'-180':datum.value==0?'0':datum.value==180?'180':''", "title": "PRR γ-LFP phase (ϕ)", "titleBaseline": "alphabetic", "titleX": -85, "titleY": 67}},
           "color": {"field": "v", "type": "quantitative", "scale": {"domain": [160, 164, 168, 171.2, 174.4, 176.8, 178.8, 181.2, 184, 188, 191.2, 194.4, 197.2, 200], "range": ["#3b3592", "#4652aa", "#4474c0", "#3590d4", "#1ba8dc", "#14b2ca", "#1db9b0", "#3cbc96", "#6cc07a", "#a8c444", "#d3bd32", "#f4b83a", "#f8d42a", "#f5ee1c"], "interpolate": "rgb"}, "legend": null}
          }},
         {"width": 71, "height": 155,
          "encoding": {
           "y": {"field": "y", "type": "quantitative", "scale": {"domain": [-202.5, 202.5], "nice": false}, "axis": {"values": [-180, -90, 0, 90, 180], "labels": false, "title": null}},
           "x": {"field": "v", "type": "quantitative", "scale": {"domain": [160, 200], "nice": false, "zero": false}, "axis": {"values": [160, 180, 200], "labelExpr": "datum.value==180?'':datum.label", "labelAngle": 90, "labelPadding": 3, "title": "SSRT (ms)", "titleColor": "#111", "titleAlign": "left", "titleX": 51, "titleBaseline": "alphabetic", "titleY": 74}}
          },
          "layer": [
           {"data": {"name": "rf1"}, "transform": [{"filter": "datum.p == 'B'"}], "mark": {"type": "line", "color": "#111", "strokeWidth": 1.6}, "encoding": {"order": {"field": "y"}}},
           {"data": {"name": "r1"}, "transform": [{"filter": "datum.p == 'B'"}], "mark": {"type": "errorbar", "color": "#111", "ticks": {"size": 8, "thickness": 1.6}, "thickness": 1.6}, "encoding": {"xError": {"field": "e"}}},
           {"data": {"name": "r1"}, "transform": [{"filter": "datum.p == 'B'"}], "mark": {"type": "point", "shape": "square", "filled": true, "size": 40, "color": "#111", "opacity": 1}}
          ]}
        ]
       }
      ]
     },
     {
      "bounds": "flush", "spacing": 17,
      "title": {"text": "C", "anchor": "start", "frame": "group", "fontSize": 35, "color": "#444", "baseline": "alphabetic", "dx": -99, "offset": 0, "dy": 43},
      "vconcat": [
       {"width": 156, "height": 63,
        "title": {"text": "Post-reach trials", "baseline": "alphabetic", "offset": 10, "frame": "group"},
        "encoding": {
         "x": {"field": "x", "type": "quantitative", "scale": {"domain": [-202.5, 202.5], "nice": false}, "axis": {"values": [-180, -90, 0, 90, 180], "labels": false, "title": null}},
         "y": {"field": "v", "type": "quantitative", "scale": {"domain": [160, 200], "nice": false, "zero": false}, "axis": {"values": [160, 180, 200], "labelExpr": "datum.value==180?'':datum.label", "title": null}}
        },
        "layer": [
         {"data": {"name": "tf1"}, "transform": [{"filter": "datum.p == 'C'"}], "mark": {"type": "line", "color": "#111", "strokeWidth": 1.6}},
         {"data": {"name": "t1"}, "transform": [{"filter": "datum.p == 'C'"}], "mark": {"type": "errorbar", "color": "#111", "ticks": {"size": 8, "thickness": 1.6}, "thickness": 1.6}, "encoding": {"yError": {"field": "e"}}},
         {"data": {"name": "t1"}, "transform": [{"filter": "datum.p == 'C'"}], "mark": {"type": "point", "shape": "square", "filled": true, "size": 40, "color": "#111", "opacity": 1}}
        ]
       },
       {
        "bounds": "flush", "spacing": 16,
        "hconcat": [
         {"width": 156, "height": 155, "data": {"name": "hm1"}, "transform": [{"filter": "datum.p == 'C'"}], "mark": {"type": "rect"},
          "encoding": {
           "x": {"field": "x", "type": "quantitative", "bin": {"binned": true, "step": 45}, "scale": {"domain": [-180, 180], "nice": false}, "axis": {"values": [-180, -90, 0, 90, 180], "labelExpr": "datum.value==-180?'-180':datum.value==0?'0':datum.value==180?'180':''", "title": "LIP γ-LFP phase (ϕ)", "titleBaseline": "alphabetic", "titleY": 74}},
           "y": {"field": "y", "type": "quantitative", "bin": {"binned": true, "step": 45}, "scale": {"domain": [-180, 180], "nice": false}, "axis": {"values": [-180, -90, 0, 90, 180], "labelExpr": "datum.value==-180?'-180':datum.value==0?'0':datum.value==180?'180':''", "title": "PRR γ-LFP phase (ϕ)", "titleBaseline": "alphabetic", "titleX": -85, "titleY": 67}},
           "color": {"field": "v", "type": "quantitative", "scale": {"domain": [160, 164, 168, 171.2, 174.4, 176.8, 178.8, 181.2, 184, 188, 191.2, 194.4, 197.2, 200], "range": ["#3b3592", "#4652aa", "#4474c0", "#3590d4", "#1ba8dc", "#14b2ca", "#1db9b0", "#3cbc96", "#6cc07a", "#a8c444", "#d3bd32", "#f4b83a", "#f8d42a", "#f5ee1c"], "interpolate": "rgb"}, "legend": null}
          }},
         {"width": 71, "height": 155,
          "encoding": {
           "y": {"field": "y", "type": "quantitative", "scale": {"domain": [-202.5, 202.5], "nice": false}, "axis": {"values": [-180, -90, 0, 90, 180], "labels": false, "title": null}},
           "x": {"field": "v", "type": "quantitative", "scale": {"domain": [160, 200], "nice": false, "zero": false}, "axis": {"values": [160, 180, 200], "labelExpr": "datum.value==180?'':datum.label", "labelAngle": 90, "labelPadding": 3, "title": "SSRT (ms)", "titleColor": "#111", "titleAlign": "left", "titleX": 51, "titleBaseline": "alphabetic", "titleY": 74}}
          },
          "layer": [
           {"data": {"name": "rf1"}, "transform": [{"filter": "datum.p == 'C'"}], "mark": {"type": "line", "color": "#111", "strokeWidth": 1.6}, "encoding": {"order": {"field": "y"}}},
           {"data": {"name": "r1"}, "transform": [{"filter": "datum.p == 'C'"}], "mark": {"type": "errorbar", "color": "#111", "ticks": {"size": 8, "thickness": 1.6}, "thickness": 1.6}, "encoding": {"xError": {"field": "e"}}},
           {"data": {"name": "r1"}, "transform": [{"filter": "datum.p == 'C'"}], "mark": {"type": "point", "shape": "square", "filled": true, "size": 40, "color": "#111", "opacity": 1}}
          ]}
        ]
       }
      ]
     },
     {
      "bounds": "flush", "spacing": 17,
      "title": {"text": "D", "anchor": "start", "frame": "group", "fontSize": 35, "color": "#444", "baseline": "alphabetic", "dx": -99, "offset": 0, "dy": 43},
      "vconcat": [
       {"width": 156, "height": 63,
        "title": {"text": "Saccade trials", "baseline": "alphabetic", "offset": 10, "frame": "group"},
        "encoding": {
         "x": {"field": "x", "type": "quantitative", "scale": {"domain": [-202.5, 202.5], "nice": false}, "axis": {"values": [-180, -90, 0, 90, 180], "labels": false, "title": null}},
         "y": {"field": "v", "type": "quantitative", "scale": {"domain": [160, 200], "nice": false, "zero": false}, "axis": {"values": [160, 180, 200], "labelExpr": "datum.value==180?'':datum.label", "title": null}}
        },
        "layer": [
         {"data": {"name": "tf1"}, "transform": [{"filter": "datum.p == 'D'"}], "mark": {"type": "line", "color": "#111", "strokeWidth": 1.6}},
         {"data": {"name": "t1"}, "transform": [{"filter": "datum.p == 'D'"}], "mark": {"type": "errorbar", "color": "#111", "ticks": {"size": 8, "thickness": 1.6}, "thickness": 1.6}, "encoding": {"yError": {"field": "e"}}},
         {"data": {"name": "t1"}, "transform": [{"filter": "datum.p == 'D'"}], "mark": {"type": "point", "shape": "square", "filled": true, "size": 40, "color": "#111", "opacity": 1}}
        ]
       },
       {
        "bounds": "flush", "spacing": 16,
        "hconcat": [
         {"width": 156, "height": 155, "data": {"name": "hm1"}, "transform": [{"filter": "datum.p == 'D'"}], "mark": {"type": "rect"},
          "encoding": {
           "x": {"field": "x", "type": "quantitative", "bin": {"binned": true, "step": 45}, "scale": {"domain": [-180, 180], "nice": false}, "axis": {"values": [-180, -90, 0, 90, 180], "labelExpr": "datum.value==-180?'-180':datum.value==0?'0':datum.value==180?'180':''", "title": "LIP γ-LFP phase (ϕ)", "titleBaseline": "alphabetic", "titleY": 74}},
           "y": {"field": "y", "type": "quantitative", "bin": {"binned": true, "step": 45}, "scale": {"domain": [-180, 180], "nice": false}, "axis": {"values": [-180, -90, 0, 90, 180], "labelExpr": "datum.value==-180?'-180':datum.value==0?'0':datum.value==180?'180':''", "title": "PRR γ-LFP phase (ϕ)", "titleBaseline": "alphabetic", "titleX": -85, "titleY": 67}},
           "color": {"field": "v", "type": "quantitative", "scale": {"domain": [160, 164, 168, 171.2, 174.4, 176.8, 178.8, 181.2, 184, 188, 191.2, 194.4, 197.2, 200], "range": ["#3b3592", "#4652aa", "#4474c0", "#3590d4", "#1ba8dc", "#14b2ca", "#1db9b0", "#3cbc96", "#6cc07a", "#a8c444", "#d3bd32", "#f4b83a", "#f8d42a", "#f5ee1c"], "interpolate": "rgb"},
            "legend": {"orient": "none", "legendX": 310, "legendY": 43, "direction": "vertical", "gradientLength": 192, "gradientThickness": 25, "gradientStrokeColor": "#555", "gradientStrokeWidth": 1, "values": [160, 200], "labelOffset": 7, "labelFontSize": 21, "title": "SSRT (ms)", "titleOrient": "right", "titleAngle": 90, "titleAnchor": "middle", "titlePadding": 7, "titleFontSize": 22, "padding": 0}}
          }},
         {"width": 71, "height": 155,
          "encoding": {
           "y": {"field": "y", "type": "quantitative", "scale": {"domain": [-202.5, 202.5], "nice": false}, "axis": {"values": [-180, -90, 0, 90, 180], "labels": false, "title": null}},
           "x": {"field": "v", "type": "quantitative", "scale": {"domain": [160, 200], "nice": false, "zero": false}, "axis": {"values": [160, 180, 200], "labelExpr": "datum.value==180?'':datum.label", "labelAngle": 90, "labelPadding": 3, "title": "SSRT (ms)", "titleColor": "#111", "titleAlign": "left", "titleX": 51, "titleBaseline": "alphabetic", "titleY": 74}}
          },
          "layer": [
           {"data": {"name": "rf1"}, "transform": [{"filter": "datum.p == 'D'"}], "mark": {"type": "line", "color": "#111", "strokeWidth": 1.6}, "encoding": {"order": {"field": "y"}}},
           {"data": {"name": "r1"}, "transform": [{"filter": "datum.p == 'D'"}], "mark": {"type": "errorbar", "color": "#111", "ticks": {"size": 8, "thickness": 1.6}, "thickness": 1.6}, "encoding": {"xError": {"field": "e"}}},
           {"data": {"name": "r1"}, "transform": [{"filter": "datum.p == 'D'"}], "mark": {"type": "point", "shape": "square", "filled": true, "size": 40, "color": "#111", "opacity": 1}}
          ]}
        ]
       }
      ]
     }
    ]
   }
  ]
 },
 {
  "bounds": "flush",
  "spacing": 227,
  "resolve": {"scale": {"color": "independent"}, "legend": {"color": "independent"}},
  "hconcat": [
   {"width": 157, "height": 1, "data": {"values": [{"k": 0}]}, "mark": {"type": "point", "opacity": 0, "size": 1}, "encoding": {}},
   {
    "bounds": "flush",
    "spacing": 439,
    "resolve": {"scale": {"color": "independent"}, "legend": {"color": "independent"}},
    "hconcat": [
     {
      "bounds": "flush", "spacing": 15,
      "title": {"text": "E", "anchor": "start", "frame": "group", "fontSize": 35, "color": "#444", "baseline": "alphabetic", "dx": -88, "offset": 38, "dy": 43},
      "vconcat": [
       {"width": 157, "height": 62,
        "encoding": {
         "x": {"field": "x", "type": "quantitative", "scale": {"domain": [-202.5, 202.5], "nice": false}, "axis": {"values": [-180, -90, 0, 90, 180], "labels": false, "title": null}},
         "y": {"field": "v", "type": "quantitative", "scale": {"domain": [0, 0.2], "nice": false, "zero": false}, "axis": {"values": [0, 0.1, 0.2], "format": ".1~f", "labelExpr": "datum.value==0.1?'':datum.label", "title": null}}
        },
        "layer": [
         {"data": {"name": "tf2"}, "transform": [{"filter": "datum.p == 'E'"}], "mark": {"type": "line", "color": "#111", "strokeWidth": 1.6}},
         {"data": {"name": "t2"}, "transform": [{"filter": "datum.p == 'E'"}], "mark": {"type": "point", "filled": true, "size": 45, "color": "#111", "opacity": 1}},
         {"data": {"name": "mt2"}, "transform": [{"filter": "datum.p == 'E' && datum.k == 'tri'"}], "mark": {"type": "point", "shape": "triangle-down", "filled": true, "size": 130, "color": "#111", "opacity": 1}},
         {"data": {"name": "mt2"}, "transform": [{"filter": "datum.p == 'E' && datum.k == 'star'"}], "mark": {"type": "text", "fontSize": 20, "color": "#111"}, "encoding": {"text": {"field": "label"}}}
        ]
       },
       {
        "bounds": "flush", "spacing": 16,
        "hconcat": [
         {"width": 157, "height": 158, "data": {"name": "hm2"}, "transform": [{"filter": "datum.p == 'E'"}], "mark": {"type": "rect"},
          "encoding": {
           "x": {"field": "x", "type": "quantitative", "bin": {"binned": true, "step": 45}, "scale": {"domain": [-180, 180], "nice": false}, "axis": {"values": [-180, -90, 0, 90, 180], "labelExpr": "datum.value==-180?'-180':datum.value==0?'0':datum.value==180?'180':''", "title": "LIP γ-LFP phase (ϕ)", "titleBaseline": "alphabetic", "titleY": 80}},
           "y": {"field": "y", "type": "quantitative", "bin": {"binned": true, "step": 45}, "scale": {"domain": [-180, 180], "nice": false}, "axis": {"values": [-180, -90, 0, 90, 180], "labelExpr": "datum.value==-180?'-180':datum.value==0?'0':datum.value==180?'180':''", "title": "PRR γ-LFP phase (ϕ)", "titleBaseline": "alphabetic", "titleX": -76, "titleY": 74}},
           "color": {"field": "v", "type": "quantitative", "scale": {"domain": [0, 0.03, 0.06, 0.084, 0.108, 0.126, 0.141, 0.159, 0.18, 0.21, 0.234, 0.258, 0.279, 0.3], "range": ["#3b3592", "#4652aa", "#4474c0", "#3590d4", "#1ba8dc", "#14b2ca", "#1db9b0", "#3cbc96", "#6cc07a", "#a8c444", "#d3bd32", "#f4b83a", "#f8d42a", "#f5ee1c"], "interpolate": "rgb"}, "legend": null}
          }},
         {"width": 71, "height": 158,
          "encoding": {
           "y": {"field": "y", "type": "quantitative", "scale": {"domain": [-202.5, 202.5], "nice": false}, "axis": {"values": [-180, -90, 0, 90, 180], "labels": false, "title": null}},
           "x": {"field": "v", "type": "quantitative", "scale": {"domain": [0, 0.2], "nice": false, "zero": false}, "axis": {"values": [0, 0.1, 0.2], "format": ".1~f", "labelExpr": "datum.value==0.1?'':datum.label", "labelAngle": 90, "labelPadding": 3, "title": ["Proportion", "of trials"], "titleLineHeight": 27, "titleColor": "#111", "titleAlign": "left", "titleX": 60, "titleBaseline": "alphabetic", "titleY": 80}}
          },
          "layer": [
           {"data": {"name": "rf2"}, "transform": [{"filter": "datum.p == 'E'"}], "mark": {"type": "line", "color": "#111", "strokeWidth": 1.6}, "encoding": {"order": {"field": "y"}}},
           {"data": {"name": "r2"}, "transform": [{"filter": "datum.p == 'E'"}], "mark": {"type": "point", "filled": true, "size": 45, "color": "#111", "opacity": 1}},
           {"data": {"name": "mr2"}, "transform": [{"filter": "datum.p == 'E' && datum.k == 'tri'"}], "mark": {"type": "point", "shape": "triangle-left", "filled": true, "size": 130, "color": "#111", "opacity": 1}},
           {"data": {"name": "mr2"}, "transform": [{"filter": "datum.p == 'E' && datum.k == 'star'"}], "mark": {"type": "text", "fontSize": 20, "color": "#111", "angle": 90}, "encoding": {"text": {"field": "label"}}}
          ]}
        ]
       }
      ]
     },
     {
      "bounds": "flush", "spacing": 15,
      "title": {"text": "F", "anchor": "start", "frame": "group", "fontSize": 35, "color": "#444", "baseline": "alphabetic", "dx": -88, "offset": 38, "dy": 43},
      "vconcat": [
       {"width": 157, "height": 62,
        "encoding": {
         "x": {"field": "x", "type": "quantitative", "scale": {"domain": [-202.5, 202.5], "nice": false}, "axis": {"values": [-180, -90, 0, 90, 180], "labels": false, "title": null}},
         "y": {"field": "v", "type": "quantitative", "scale": {"domain": [0, 0.2], "nice": false, "zero": false}, "axis": {"values": [0, 0.1, 0.2], "format": ".1~f", "labelExpr": "datum.value==0.1?'':datum.label", "title": null}}
        },
        "layer": [
         {"data": {"name": "tf2"}, "transform": [{"filter": "datum.p == 'F'"}], "mark": {"type": "line", "color": "#111", "strokeWidth": 1.6}},
         {"data": {"name": "t2"}, "transform": [{"filter": "datum.p == 'F'"}], "mark": {"type": "point", "filled": true, "size": 45, "color": "#111", "opacity": 1}},
         {"data": {"name": "mt2"}, "transform": [{"filter": "datum.p == 'F' && datum.k == 'tri'"}], "mark": {"type": "point", "shape": "triangle-down", "filled": true, "size": 130, "color": "#111", "opacity": 1}},
         {"data": {"name": "mt2"}, "transform": [{"filter": "datum.p == 'F' && datum.k == 'star'"}], "mark": {"type": "text", "fontSize": 20, "color": "#111"}, "encoding": {"text": {"field": "label"}}}
        ]
       },
       {
        "bounds": "flush", "spacing": 16,
        "hconcat": [
         {"width": 157, "height": 158, "data": {"name": "hm2"}, "transform": [{"filter": "datum.p == 'F'"}], "mark": {"type": "rect"},
          "encoding": {
           "x": {"field": "x", "type": "quantitative", "bin": {"binned": true, "step": 45}, "scale": {"domain": [-180, 180], "nice": false}, "axis": {"values": [-180, -90, 0, 90, 180], "labelExpr": "datum.value==-180?'-180':datum.value==0?'0':datum.value==180?'180':''", "title": "LIP γ-LFP phase (ϕ)", "titleBaseline": "alphabetic", "titleY": 80}},
           "y": {"field": "y", "type": "quantitative", "bin": {"binned": true, "step": 45}, "scale": {"domain": [-180, 180], "nice": false}, "axis": {"values": [-180, -90, 0, 90, 180], "labelExpr": "datum.value==-180?'-180':datum.value==0?'0':datum.value==180?'180':''", "title": "PRR γ-LFP phase (ϕ)", "titleBaseline": "alphabetic", "titleX": -76, "titleY": 74}},
           "color": {"field": "v", "type": "quantitative", "scale": {"domain": [0, 0.03, 0.06, 0.084, 0.108, 0.126, 0.141, 0.159, 0.18, 0.21, 0.234, 0.258, 0.279, 0.3], "range": ["#3b3592", "#4652aa", "#4474c0", "#3590d4", "#1ba8dc", "#14b2ca", "#1db9b0", "#3cbc96", "#6cc07a", "#a8c444", "#d3bd32", "#f4b83a", "#f8d42a", "#f5ee1c"], "interpolate": "rgb"}, "legend": null}
          }},
         {"width": 71, "height": 158,
          "encoding": {
           "y": {"field": "y", "type": "quantitative", "scale": {"domain": [-202.5, 202.5], "nice": false}, "axis": {"values": [-180, -90, 0, 90, 180], "labels": false, "title": null}},
           "x": {"field": "v", "type": "quantitative", "scale": {"domain": [0, 0.2], "nice": false, "zero": false}, "axis": {"values": [0, 0.1, 0.2], "format": ".1~f", "labelExpr": "datum.value==0.1?'':datum.label", "labelAngle": 90, "labelPadding": 3, "title": ["Proportion", "of trials"], "titleLineHeight": 27, "titleColor": "#111", "titleAlign": "left", "titleX": 60, "titleBaseline": "alphabetic", "titleY": 80}}
          },
          "layer": [
           {"data": {"name": "rf2"}, "transform": [{"filter": "datum.p == 'F'"}], "mark": {"type": "line", "color": "#111", "strokeWidth": 1.6}, "encoding": {"order": {"field": "y"}}},
           {"data": {"name": "r2"}, "transform": [{"filter": "datum.p == 'F'"}], "mark": {"type": "point", "filled": true, "size": 45, "color": "#111", "opacity": 1}},
           {"data": {"name": "mr2"}, "transform": [{"filter": "datum.p == 'F' && datum.k == 'tri'"}], "mark": {"type": "point", "shape": "triangle-left", "filled": true, "size": 130, "color": "#111", "opacity": 1}},
           {"data": {"name": "mr2"}, "transform": [{"filter": "datum.p == 'F' && datum.k == 'star'"}], "mark": {"type": "text", "fontSize": 20, "color": "#111", "angle": 90}, "encoding": {"text": {"field": "label"}}}
          ]}
        ]
       }
      ]
     },
     {
      "bounds": "flush", "spacing": 15,
      "title": {"text": "G", "anchor": "start", "frame": "group", "fontSize": 35, "color": "#444", "baseline": "alphabetic", "dx": -88, "offset": 38, "dy": 43},
      "vconcat": [
       {"width": 157, "height": 62,
        "encoding": {
         "x": {"field": "x", "type": "quantitative", "scale": {"domain": [-202.5, 202.5], "nice": false}, "axis": {"values": [-180, -90, 0, 90, 180], "labels": false, "title": null}},
         "y": {"field": "v", "type": "quantitative", "scale": {"domain": [0, 0.2], "nice": false, "zero": false}, "axis": {"values": [0, 0.1, 0.2], "format": ".1~f", "labelExpr": "datum.value==0.1?'':datum.label", "title": null}}
        },
        "layer": [
         {"data": {"name": "tf2"}, "transform": [{"filter": "datum.p == 'G'"}], "mark": {"type": "line", "color": "#111", "strokeWidth": 1.6}},
         {"data": {"name": "t2"}, "transform": [{"filter": "datum.p == 'G'"}], "mark": {"type": "point", "filled": true, "size": 45, "color": "#111", "opacity": 1}},
         {"data": {"name": "mt2"}, "transform": [{"filter": "datum.p == 'G' && datum.k == 'tri'"}], "mark": {"type": "point", "shape": "triangle-down", "filled": true, "size": 130, "color": "#111", "opacity": 1}}
        ]
       },
       {
        "bounds": "flush", "spacing": 16,
        "hconcat": [
         {"width": 157, "height": 158, "data": {"name": "hm2"}, "transform": [{"filter": "datum.p == 'G'"}], "mark": {"type": "rect"},
          "encoding": {
           "x": {"field": "x", "type": "quantitative", "bin": {"binned": true, "step": 45}, "scale": {"domain": [-180, 180], "nice": false}, "axis": {"values": [-180, -90, 0, 90, 180], "labelExpr": "datum.value==-180?'-180':datum.value==0?'0':datum.value==180?'180':''", "title": "LIP γ-LFP phase (ϕ)", "titleBaseline": "alphabetic", "titleY": 80}},
           "y": {"field": "y", "type": "quantitative", "bin": {"binned": true, "step": 45}, "scale": {"domain": [-180, 180], "nice": false}, "axis": {"values": [-180, -90, 0, 90, 180], "labelExpr": "datum.value==-180?'-180':datum.value==0?'0':datum.value==180?'180':''", "title": "PRR γ-LFP phase (ϕ)", "titleBaseline": "alphabetic", "titleX": -76, "titleY": 74}},
           "color": {"field": "v", "type": "quantitative", "scale": {"domain": [0, 0.03, 0.06, 0.084, 0.108, 0.126, 0.141, 0.159, 0.18, 0.21, 0.234, 0.258, 0.279, 0.3], "range": ["#3b3592", "#4652aa", "#4474c0", "#3590d4", "#1ba8dc", "#14b2ca", "#1db9b0", "#3cbc96", "#6cc07a", "#a8c444", "#d3bd32", "#f4b83a", "#f8d42a", "#f5ee1c"], "interpolate": "rgb"},
            "legend": {"orient": "none", "legendX": 321, "legendY": 48, "direction": "vertical", "gradientLength": 190, "gradientThickness": 25, "gradientStrokeColor": "#555", "gradientStrokeWidth": 1, "values": [0, 0.3], "format": ".1~f", "labelOffset": 7, "labelFontSize": 21, "title": ["Proportion", "of trials"], "titleLineHeight": 25, "titleOrient": "right", "titleAngle": 90, "titleAnchor": "middle", "titlePadding": 4, "titleFontSize": 22, "padding": 0}}
          }},
         {"width": 71, "height": 158,
          "encoding": {
           "y": {"field": "y", "type": "quantitative", "scale": {"domain": [-202.5, 202.5], "nice": false}, "axis": {"values": [-180, -90, 0, 90, 180], "labels": false, "title": null}},
           "x": {"field": "v", "type": "quantitative", "scale": {"domain": [0, 0.2], "nice": false, "zero": false}, "axis": {"values": [0, 0.1, 0.2], "format": ".1~f", "labelExpr": "datum.value==0.1?'':datum.label", "labelAngle": 90, "labelPadding": 3, "title": ["Proportion", "of trials"], "titleLineHeight": 27, "titleColor": "#111", "titleAlign": "left", "titleX": 60, "titleBaseline": "alphabetic", "titleY": 80}}
          },
          "layer": [
           {"data": {"name": "rf2"}, "transform": [{"filter": "datum.p == 'G'"}], "mark": {"type": "line", "color": "#111", "strokeWidth": 1.6}, "encoding": {"order": {"field": "y"}}},
           {"data": {"name": "r2"}, "transform": [{"filter": "datum.p == 'G'"}], "mark": {"type": "point", "filled": true, "size": 45, "color": "#111", "opacity": 1}},
           {"data": {"name": "mr2"}, "transform": [{"filter": "datum.p == 'G' && datum.k == 'tri'"}], "mark": {"type": "point", "shape": "triangle-left", "filled": true, "size": 130, "color": "#111", "opacity": 1}},
           {"data": {"name": "mr2"}, "transform": [{"filter": "datum.p == 'G' && datum.k == 'star'"}], "mark": {"type": "text", "fontSize": 20, "color": "#111", "angle": 90}, "encoding": {"text": {"field": "label"}}}
          ]}
        ]
       }
      ]
     }
    ]
   }
  ]
 }
]
}
